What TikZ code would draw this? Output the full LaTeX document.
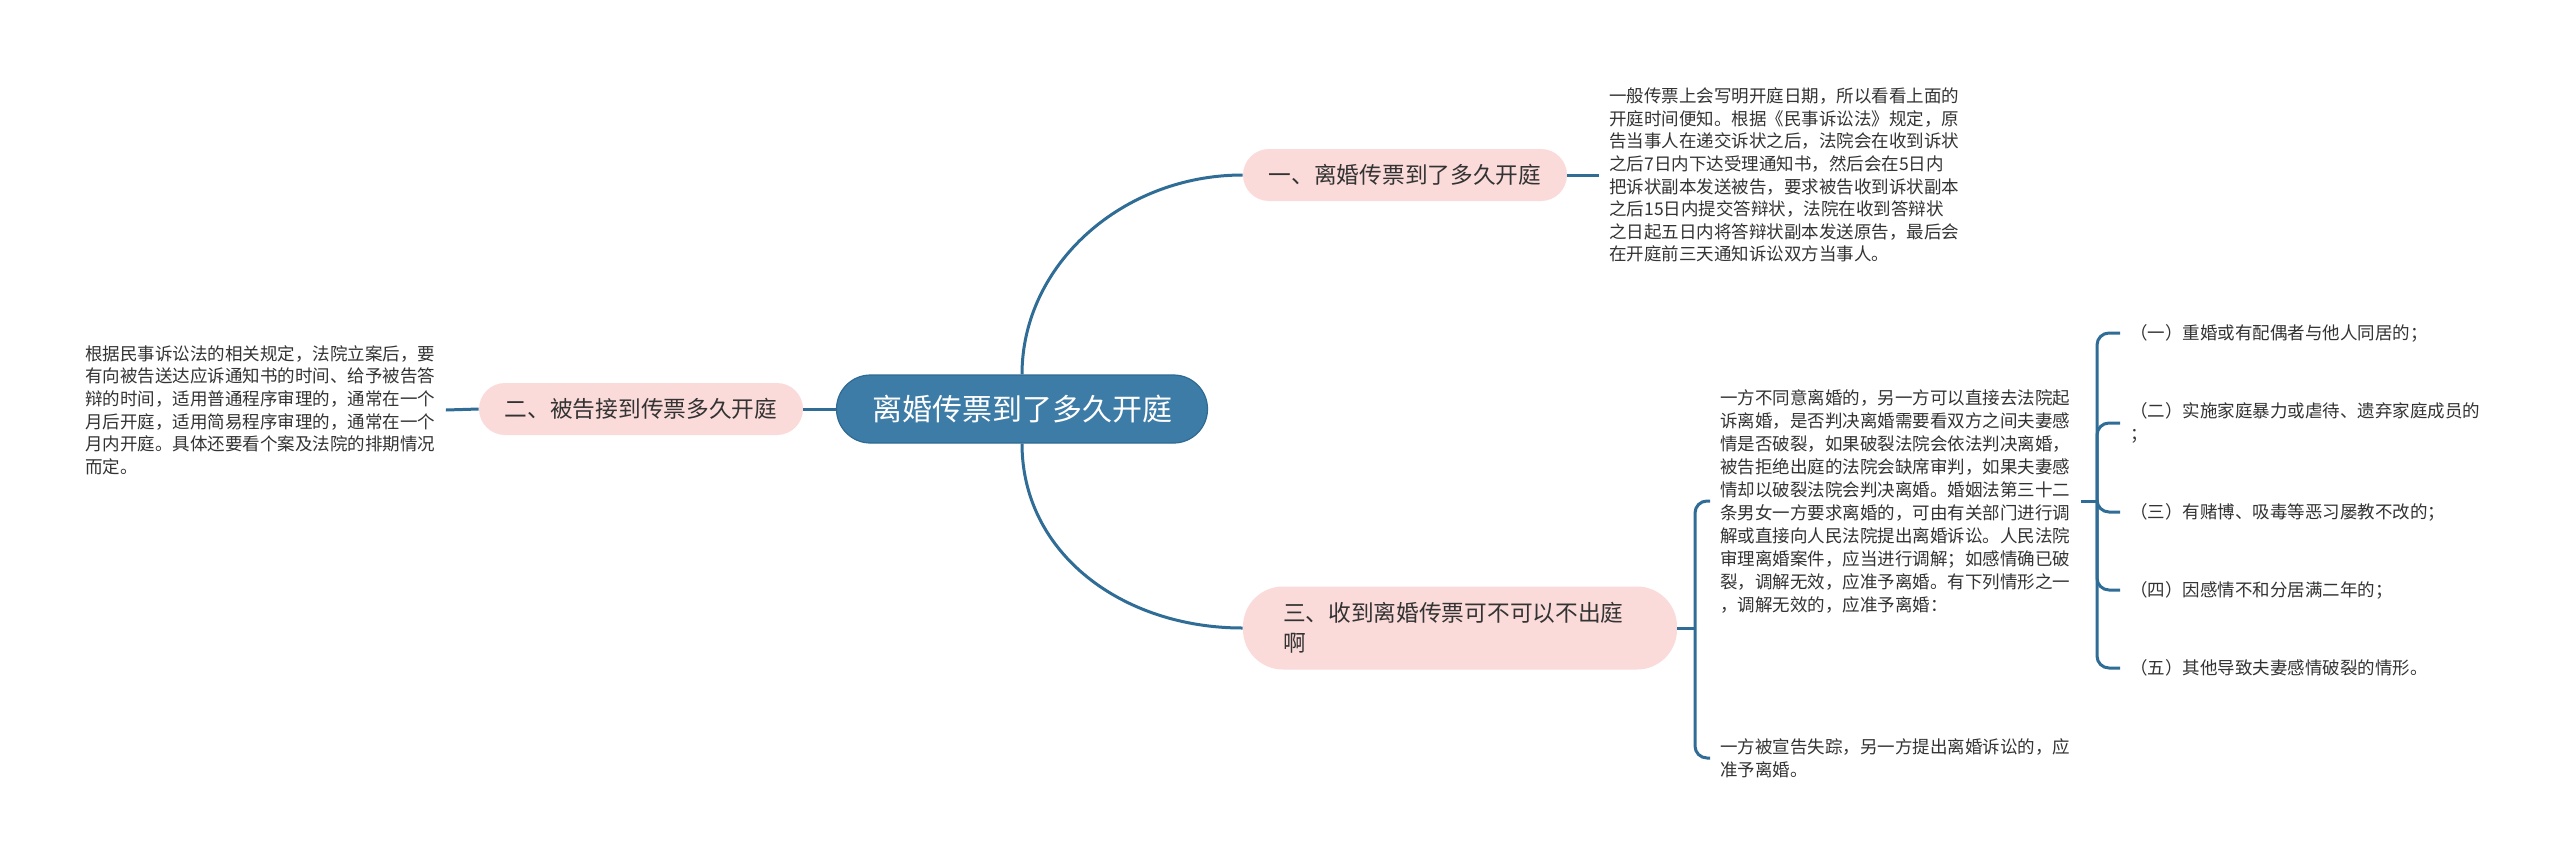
\documentclass[tikz,border=0pt]{standalone}
\usepackage{fontspec}
\setmainfont{Noto Sans CJK SC}
\definecolor{mainblue}{HTML}{3D7CA7}
\definecolor{mainedge}{HTML}{2F6A93}
\definecolor{linkblue}{HTML}{2F6D96}
\definecolor{pinkbg}{HTML}{FBDBDA}
\definecolor{txt}{HTML}{333333}
\tikzset{
  mainnode/.style={fill=mainblue, draw=mainedge, line width=0.6pt, text=white, rounded corners=17pt,
    minimum width=185.5pt, minimum height=34pt, inner sep=0pt, font=\fontsize{15}{18}\selectfont},
  branch/.style={fill=pinkbg, text=txt, rounded corners=13pt, minimum width=162pt,
    minimum height=26pt, inner sep=0pt, font=\fontsize{11.35}{15}\selectfont},
  detail/.style={text=txt, align=left, anchor=west, inner xsep=5pt, inner ysep=2pt,
    font=\fontsize{8.75}{11.3}\selectfont},
  link/.style={draw=linkblue, line width=1.5pt},
  brace/.style={draw=linkblue, line width=1.5pt, rounded corners=6pt}
}
\begin{document}
\begin{tikzpicture}[x=0.5pt,y=-0.5pt]
\useasboundingbox[fill=white] (0,0) rectangle (2560,864);

% central node
\node[mainnode] (c) at (1022,409) {离婚传票到了多久开庭};

% branch nodes
\node[branch] (n1) at (1405,175) {一、离婚传票到了多久开庭};
\node[branch] (n2) at (641,409) {二、被告接到传票多久开庭};
\node[branch, rounded corners=20pt, minimum height=41.5pt, text width=177pt, inner xsep=20pt, align=left]
  (n3) at (1460,628) {三、收到离婚传票可不可以不出庭\\啊};

% details
\node[detail] (d1) at (1599,175) {一般传票上会写明开庭日期，所以看看上面的\\开庭时间便知。根据《民事诉讼法》规定，原\\告当事人在递交诉状之后，法院会在收到诉状\\之后7日内下达受理通知书，然后会在5日内\\把诉状副本发送被告，要求被告收到诉状副本\\之后15日内提交答辩状，法院在收到答辩状\\之日起五日内将答辩状副本发送原告，最后会\\在开庭前三天通知诉讼双方当事人。};

\node[detail] (d2) at (75,410) {根据民事诉讼法的相关规定，法院立案后，要\\有向被告送达应诉通知书的时间、给予被告答\\辩的时间，适用普通程序审理的，通常在一个\\月后开庭，适用简易程序审理的，通常在一个\\月内开庭。具体还要看个案及法院的排期情况\\而定。};

\node[detail, font=\fontsize{8.75}{11.5}\selectfont] (d3a) at (1710,501) {一方不同意离婚的，另一方可以直接去法院起\\诉离婚，是否判决离婚需要看双方之间夫妻感\\情是否破裂，如果破裂法院会依法判决离婚，\\被告拒绝出庭的法院会缺席审判，如果夫妻感\\情却以破裂法院会判决离婚。婚姻法第三十二\\条男女一方要求离婚的，可由有关部门进行调\\解或直接向人民法院提出离婚诉讼。人民法院\\审理离婚案件，应当进行调解；如感情确已破\\裂，调解无效，应准予离婚。有下列情形之一\\，调解无效的，应准予离婚：};

\node[detail] (d3b) at (1710,758) {一方被宣告失踪，另一方提出离婚诉讼的，应\\准予离婚。};

% items
\node[detail] (i1) at (2120,333) {（一）重婚或有配偶者与他人同居的；};
\node[detail] (i2) at (2120,423) {（二）实施家庭暴力或虐待、遗弃家庭成员的\\；};
\node[detail] (i3) at (2120,512) {（三）有赌博、吸毒等恶习屡教不改的；};
\node[detail] (i4) at (2120,590) {（四）因感情不和分居满二年的；};
\node[detail] (i5) at (2120,668) {（五）其他导致夫妻感情破裂的情形。};

% connectors
\draw[link] (c.north) .. controls +(0,-110) and +(-120,0) .. (n1.west);
\draw[link] (c.south) .. controls +(0,110) and +(-120,0) .. (n3.west);
\draw[link] (c.west) -- (n2.east);
\draw[link] (n1.east) -- (d1.west);
\draw[link] (n2.west) -- (d2.east);

\coordinate (b3) at (1695,628);
\draw[link] (n3.east) -- (b3);
\draw[brace] (b3) |- (d3a.west);
\draw[brace] (b3) |- (d3b.west);

\coordinate (b4) at (2097,501);
\draw[link] (d3a.east) -- (b4);
\draw[brace] (b4) |- (i1.west);
\draw[brace] (b4) |- (i2.west);
\draw[brace] (b4) |- (i3.west);
\draw[brace] (b4) |- (i4.west);
\draw[brace] (b4) |- (i5.west);
\end{tikzpicture}
\end{document}
